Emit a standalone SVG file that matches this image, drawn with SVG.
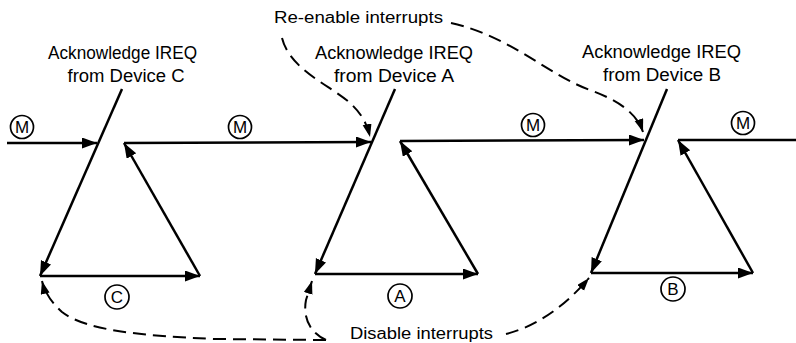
<svg xmlns="http://www.w3.org/2000/svg" width="796" height="343" viewBox="0 0 796 343">
  <style>
    .ln { fill: none; stroke: #000; stroke-width: 2.5; stroke-linecap: butt; }
    .dash { fill: none; stroke: #000; stroke-width: 2; stroke-dasharray: 13 7; }
    .lbl { font-family: "Liberation Sans", Arial, sans-serif; font-size: 17.5px; fill: #000; text-anchor: middle; }
    .note { font-family: "Liberation Sans", Arial, sans-serif; font-size: 16px; fill: #000; }
    .circ { fill: #fff; stroke: #000; stroke-width: 1.7; }
    .ct { font-family: "Liberation Sans", Arial, sans-serif; font-size: 17px; fill: #000; text-anchor: middle; }
  </style>
  <defs>
    <marker id="ah" markerUnits="userSpaceOnUse" markerWidth="16" markerHeight="12" refX="15" refY="5.5" orient="auto">
      <path d="M0,0 L15,5.5 L0,11 Z" fill="#000"/>
    </marker>
    <marker id="ahd" markerUnits="userSpaceOnUse" markerWidth="14" markerHeight="10" refX="13" refY="4.5" orient="auto">
      <path d="M0,0 L13,4.5 L0,9 Z" fill="#000"/>
    </marker>
  </defs>
  <rect width="796" height="343" fill="#fff"/>

  <g id="connectors">
    <!-- unit C -->
    <line class="ln" x1="7" y1="143" x2="97" y2="143" marker-end="url(#ah)"/>
    <line class="ln" x1="122" y1="89" x2="40" y2="276" marker-end="url(#ah)"/>
    <line class="ln" x1="40" y1="276" x2="200" y2="276" marker-end="url(#ah)"/>
    <line class="ln" x1="200" y1="276" x2="124" y2="143" marker-end="url(#ah)"/>
    <line class="ln" x1="124" y1="143" x2="371" y2="142" marker-end="url(#ah)"/>
    <!-- unit A -->
    <line class="ln" x1="395" y1="89" x2="315" y2="274" marker-end="url(#ah)"/>
    <line class="ln" x1="315" y1="274" x2="478" y2="274" marker-end="url(#ah)"/>
    <line class="ln" x1="478" y1="274" x2="400" y2="141" marker-end="url(#ah)"/>
    <line class="ln" x1="400" y1="141" x2="644" y2="140" marker-end="url(#ah)"/>
    <!-- unit B -->
    <line class="ln" x1="667" y1="89" x2="591" y2="273" marker-end="url(#ah)"/>
    <line class="ln" x1="591" y1="273" x2="753" y2="273" marker-end="url(#ah)"/>
    <line class="ln" x1="753" y1="273" x2="678" y2="140" marker-end="url(#ah)"/>
    <line class="ln" x1="678" y1="140" x2="796" y2="140"/>
    <!-- dashed notes -->
    <path class="dash" d="M282,38 C290,70 330,85 350,103 C362,114 367,124 370,137" marker-end="url(#ahd)"/>
    <path class="dash" d="M451,23 C510,36 550,76 590,90 C620,101 637,114 643,132" marker-end="url(#ahd)"/>
    <path class="dash" d="M326,340 L215,339 C140,336 85,330 62,312 C52,303 45,293 42,281" marker-end="url(#ahd)"/>
    <path class="dash" d="M326,340 C308,332 303,315 306,300 L312,281" marker-end="url(#ahd)"/>
    <path class="dash" d="M506,334 C530,328 560,312 589,278" marker-end="url(#ahd)"/>
  </g>

  <g id="ack-c">
    <text class="lbl" x="122.5" y="59" textLength="149" lengthAdjust="spacingAndGlyphs">Acknowledge IREQ</text>
    <text class="lbl" x="126" y="82" textLength="117" lengthAdjust="spacingAndGlyphs">from Device C</text>
  </g>
  <g id="ack-a">
    <text class="lbl" x="394" y="59" textLength="158" lengthAdjust="spacingAndGlyphs">Acknowledge IREQ</text>
    <text class="lbl" x="394" y="82" textLength="120" lengthAdjust="spacingAndGlyphs">from Device A</text>
  </g>
  <g id="ack-b">
    <text class="lbl" x="661.5" y="58" textLength="159" lengthAdjust="spacingAndGlyphs">Acknowledge IREQ</text>
    <text class="lbl" x="662" y="80.5" textLength="118" lengthAdjust="spacingAndGlyphs">from Device B</text>
  </g>
  <g id="reenable">
    <text class="note" x="274" y="22.5" textLength="169" lengthAdjust="spacingAndGlyphs">Re-enable interrupts</text>
  </g>
  <g id="disable">
    <text class="note" x="350" y="338.5" textLength="143" lengthAdjust="spacingAndGlyphs">Disable interrupts</text>
  </g>

  <g id="m1"><circle class="circ" cx="22" cy="127" r="11.5"/><text class="ct" x="22" y="133">M</text></g>
  <g id="m2"><circle class="circ" cx="240" cy="127" r="11.5"/><text class="ct" x="240" y="133">M</text></g>
  <g id="m3"><circle class="circ" cx="533" cy="125" r="11.5"/><text class="ct" x="533" y="131">M</text></g>
  <g id="m4"><circle class="circ" cx="743" cy="123" r="11.5"/><text class="ct" x="743" y="129">M</text></g>
  <g id="c-circ"><circle class="circ" cx="117" cy="297" r="12"/><text class="ct" x="117" y="303">C</text></g>
  <g id="a-circ"><circle class="circ" cx="400" cy="296" r="12"/><text class="ct" x="400" y="302">A</text></g>
  <g id="b-circ"><circle class="circ" cx="673" cy="289" r="12"/><text class="ct" x="673" y="295">B</text></g>
</svg>
